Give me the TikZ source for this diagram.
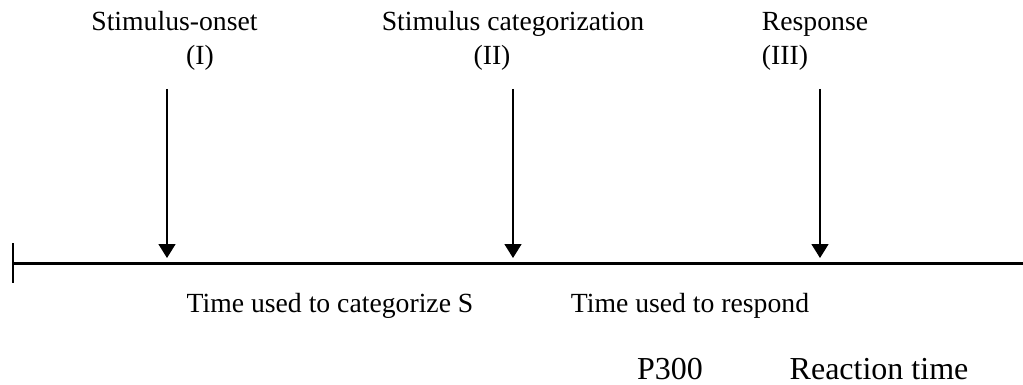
\documentclass[tikz,border=0pt]{standalone}
\usepackage{fontspec}
\setmainfont{Liberation Serif}
\usetikzlibrary{arrows.meta}
\begin{document}
\begin{tikzpicture}[x=1pt,y=-1pt,
  lbl/.style={inner sep=0pt,anchor=base,font=\fontsize{27.7}{32}\selectfont},
  big/.style={inner sep=0pt,anchor=base,font=\fontsize{32}{38}\selectfont},
  arr/.style={line width=1.6pt,-{Triangle[length=14pt,width=17pt]}},
  axis/.style={line width=3pt}]
\useasboundingbox (0,0) rectangle (1023,385);
\coordinate (L) at (13,263);
\coordinate (R) at (1023,263);
\coordinate (Lt) at (13,243);
\coordinate (Lb) at (13,283);
\draw[axis] (L) -- (R);
\draw[line width=1.6pt] (Lt) -- (Lb);
\coordinate (a1) at (167,89);
\coordinate (b1) at (167,258);
\coordinate (a2) at (513,89);
\coordinate (b2) at (513,258);
\coordinate (a3) at (820,89);
\coordinate (b3) at (820,258);
\draw[arr] (a1) -- (b1);
\draw[arr] (a2) -- (b2);
\draw[arr] (a3) -- (b3);
\node[lbl] (t1) at (174.5,31) {Stimulus-onset};
\node[lbl] (r1) at (200,65) {(I)};
\node[lbl] (t2) at (513,31) {Stimulus categorization};
\node[lbl] (r2) at (492,65) {(II)};
\node[lbl] (t3) at (815,31) {Response};
\node[lbl] (r3) at (785,65) {(III)};
\node[lbl] (c1) at (330,312) {Time used to categorize S};
\node[lbl] (c2) at (690,312) {Time used to respond};
\node[big] (p) at (670,379) {P300};
\node[big] (rt) at (879,379) {Reaction time};
\end{tikzpicture}
\end{document}
